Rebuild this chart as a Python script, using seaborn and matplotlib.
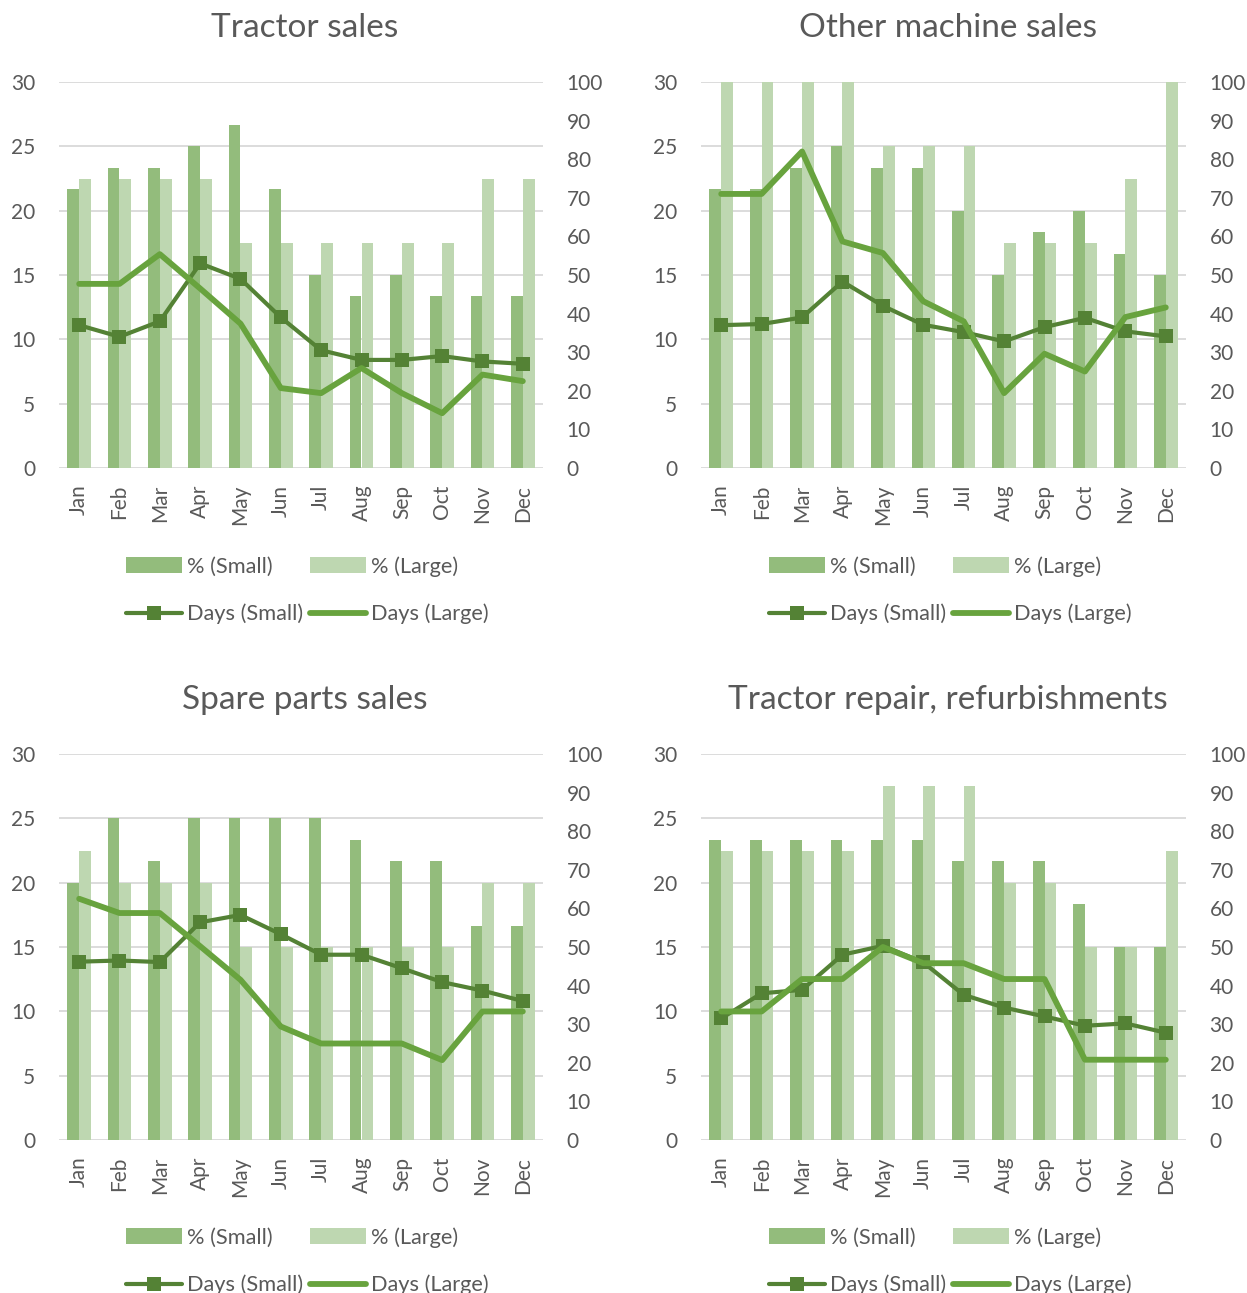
import matplotlib
matplotlib.use("Agg")
import matplotlib.pyplot as plt
from matplotlib.patches import Patch
from matplotlib.lines import Line2D
import numpy as np
import pandas as pd
import seaborn as sns

months = ["Jan", "Feb", "Mar", "Apr", "May", "Jun",
          "Jul", "Aug", "Sep", "Oct", "Nov", "Dec"]

titles = ["Tractor sales", "Other machine sales",
          "Spare parts sales", "Tractor repair, refurbishments"]

# share of sales (%), left axis
pct_small = [
    [21.67, 23.33, 23.33, 25.0, 26.67, 21.67, 15.0, 13.33, 15.0, 13.33, 13.33, 13.33],
    [21.67, 21.67, 23.33, 25.0, 23.33, 23.33, 20.0, 15.0, 18.33, 20.0, 16.67, 15.0],
    [20.0, 25.0, 21.67, 25.0, 25.0, 25.0, 25.0, 23.33, 21.67, 21.67, 16.67, 16.67],
    [23.33, 23.33, 23.33, 23.33, 23.33, 23.33, 21.67, 21.67, 21.67, 18.33, 15.0, 15.0],
]
pct_large = [
    [22.5, 22.5, 22.5, 22.5, 17.5, 17.5, 17.5, 17.5, 17.5, 17.5, 22.5, 22.5],
    [30.0, 30.0, 30.0, 30.0, 25.0, 25.0, 25.0, 17.5, 17.5, 17.5, 22.5, 30.0],
    [22.5, 20.0, 20.0, 20.0, 15.0, 15.0, 15.0, 15.0, 15.0, 15.0, 20.0, 20.0],
    [22.5, 22.5, 22.5, 22.5, 27.5, 27.5, 27.5, 20.0, 20.0, 15.0, 15.0, 22.5],
]
# days, right axis
days_small = [
    [37, 34, 38, 53, 49, 39, 30.5, 28, 28, 29, 27.6, 27],
    [37, 37.3, 39, 48.3, 42, 37.1, 35.2, 32.8, 36.5, 38.9, 35.4, 34.1],
    [46.2, 46.5, 46.1, 56.4, 58.3, 53.3, 48, 48, 44.5, 40.9, 38.7, 36],
    [31.5, 38, 38.9, 48, 50.3, 46, 37.6, 34.3, 32, 29.6, 30.2, 27.8],
]
days_large = [
    [47.7, 47.7, 55.4, 46.5, 37.4, 20.7, 19.4, 25.9, 19.4, 14.2, 24.2, 22.5],
    [71, 71, 82, 58.7, 55.7, 43.2, 38, 19.4, 29.6, 25, 39.1, 41.6],
    [62.5, 58.8, 58.8, 50.2, 41.5, 29.4, 25, 25, 25, 20.7, 33.3, 33.3],
    [33.3, 33.3, 41.7, 41.7, 50, 45.8, 45.8, 41.7, 41.7, 20.8, 20.8, 20.8],
]

C_SMALL_BAR = "#93BC7C"
C_LARGE_BAR = "#BED7B1"
C_DAYS_SMALL = "#548235"
C_DAYS_LARGE = "#68A33E"
TXT = "#595959"
GRID = "#D9D9D9"

sns.set_theme(style="white")
plt.rcParams["font.family"] = ["Lato", "DejaVu Sans"]
plt.rcParams["text.color"] = TXT

W, H = 1247, 1293
fig = plt.figure(figsize=(W / 100, H / 100), dpi=100)

# panel geometry in pixels: (left, right, top, bottom) of plot area
panels = [
    (59, 543, 82, 468),
    (701, 1186, 82, 468),
    (59, 543, 754, 1140),
    (701, 1186, 754, 1140),
]
title_pos = [(305, 28), (948, 28), (305, 700), (948, 700)]
legend_pos = [(307, 556), (950, 556), (307, 1227), (950, 1227)]

for i in range(4):
    l, r, t, b = panels[i]
    ax = fig.add_axes([l / W, 1 - b / H, (r - l) / W, (b - t) / H])
    df = pd.DataFrame({
        "month": months * 2,
        "size": ["Small"] * 12 + ["Large"] * 12,
        "pct": pct_small[i] + pct_large[i],
    })
    sns.barplot(data=df, x="month", y="pct", hue="size",
                hue_order=["Small", "Large"],
                palette=[C_SMALL_BAR, C_LARGE_BAR],
                width=0.58, saturation=1, gap=0, errorbar=None,
                legend=False, ax=ax, zorder=2, linewidth=0)
    ax.set_ylim(0, 30)
    ax.set_yticks(range(0, 31, 5))
    ax.set_xlim(-0.5, 11.5)
    ax.yaxis.grid(True, color=GRID, linewidth=1.3, zorder=0)
    ax.set_axisbelow(True)
    for s in ax.spines.values():
        s.set_visible(False)
    ax.set_xlabel("")
    ax.set_ylabel("")
    ax.tick_params(axis="y", length=0, pad=17, labelsize=15, labelcolor=TXT)
    ax.tick_params(axis="x", length=0, pad=12, labelsize=15, labelcolor=TXT,
                   labelrotation=90)

    ax2 = ax.twinx()
    sns.pointplot(x=months, y=days_small[i], ax=ax2, color=C_DAYS_SMALL,
                  errorbar=None, marker="s", markersize=10.5,
                  markeredgewidth=0, linewidth=3)
    sns.pointplot(x=months, y=days_large[i], ax=ax2, color=C_DAYS_LARGE,
                  errorbar=None, marker="", linewidth=4.2)
    ax2.set_ylim(0, 100)
    ax2.set_yticks(range(0, 101, 10))
    ax2.set_xlim(-0.5, 11.5)
    ax2.grid(False)
    for s in ax2.spines.values():
        s.set_visible(False)
    ax2.set_ylabel("")
    ax2.tick_params(axis="y", length=0, pad=17, labelsize=15, labelcolor=TXT)

    tx, ty = title_pos[i]
    fig.text(tx / W, 1 - ty / H, titles[i], ha="center", va="center",
             fontsize=24, color=TXT)

    handles = [
        Patch(facecolor=C_SMALL_BAR, edgecolor="none"),
        Line2D([], [], color=C_DAYS_SMALL, linewidth=3, marker="s",
               markersize=10.5, markeredgewidth=0),
        Patch(facecolor=C_LARGE_BAR, edgecolor="none"),
        Line2D([], [], color=C_DAYS_LARGE, linewidth=4.2),
    ]
    labels = ["% (Small)", "Days (Small)", "% (Large)", "Days (Large)"]
    lx, ly = legend_pos[i]
    fig.legend(handles, labels, ncol=2, loc="upper center",
               bbox_to_anchor=(lx / W, 1 - ly / H), frameon=False,
               fontsize=15.7, handlelength=2.6, handleheight=0.7,
               handletextpad=0.2, columnspacing=0.3, labelspacing=1.25,
               borderpad=0, borderaxespad=0, labelcolor=TXT)

fig.savefig("out.png", dpi=100)
